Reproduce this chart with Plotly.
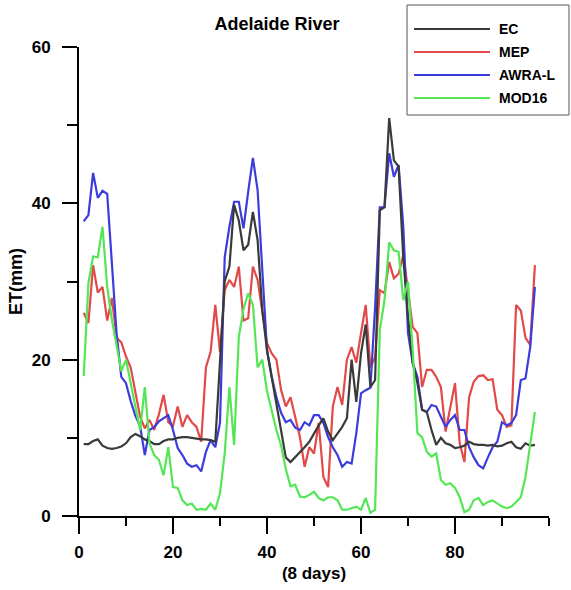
import plotly.graph_objects as go

# ---------------- data ----------------
periods = list(range(1, 98))  # 8-day periods

ec = [9.2, 9.2, 9.6, 9.8, 9.0, 8.7, 8.6, 8.7, 8.9, 9.3,
      10.1, 10.5, 10.2, 9.8, 9.6, 9.2, 9.2, 9.6, 9.8, 9.8,
      10.0, 10.1, 10.1, 10.0, 9.9, 9.8, 9.8, 9.7, 9.5, 20.0,
      30.0, 31.9, 39.8, 37.8, 34.0, 34.7, 38.9, 35.3, 26.3, 21.2,
      17.8, 14.4, 10.6, 7.5, 6.9, 7.5, 8.2, 8.8, 9.5, 10.6,
      11.6, 12.5, 10.8, 9.7, 10.6, 11.4, 12.5, 20.0, 14.6, 20.8,
      24.5, 16.5, 17.4, 39.1, 39.5, 50.9, 45.5, 44.7, 33.0, 25.5,
      19.6, 17.0, 13.6, 13.3, 11.0, 9.1, 10.0, 9.3, 9.1, 8.7,
      8.8, 9.0, 9.5, 9.2, 9.1, 9.1, 9.0, 9.1, 8.9, 9.0,
      9.3, 9.5, 8.8, 8.6, 9.3, 9.0, 9.1]

mep = [26.0, 24.7, 32.1, 28.6, 29.3, 25.0, 27.9, 22.8, 22.2, 20.4,
       19.0, 15.7, 12.7, 11.2, 12.3, 11.0, 13.0, 15.5, 12.0, 11.5,
       14.0, 11.4, 12.9, 12.0, 11.4, 9.5, 19.0, 21.0, 27.0, 21.0,
       28.9, 30.2, 29.3, 31.9, 25.0, 25.3, 31.9, 30.2, 26.0, 22.1,
       20.8, 20.0, 16.1, 14.0, 15.2, 12.7, 10.1, 6.3, 8.8, 8.0,
       11.9, 5.0, 3.7, 14.0, 16.5, 14.2, 20.0, 21.6, 19.6, 23.4,
       27.0, 19.0, 20.3, 28.9, 28.5, 32.5, 30.4, 31.0, 33.4, 28.9,
       24.2, 23.4, 16.5, 18.7, 18.7, 17.8, 16.5, 10.8, 14.0, 17.0,
       9.3, 6.9, 15.2, 17.2, 17.9, 18.0, 17.4, 17.5, 13.6, 12.9,
       11.4, 11.6, 27.0, 26.3, 22.8, 21.9, 32.1]

awra = [37.7, 38.5, 43.9, 40.7, 41.6, 41.2, 32.3, 23.3, 17.8, 17.0,
        14.7, 12.8, 11.5, 7.8, 11.0, 11.4, 12.1, 12.5, 12.9, 11.0,
        8.7, 7.8, 6.7, 6.3, 6.5, 5.7, 8.2, 9.7, 8.8, 11.9,
        33.1, 37.0, 40.2, 40.2, 36.8, 41.5, 45.8, 41.7, 31.9, 21.2,
        17.8, 15.2, 13.2, 12.0, 12.3, 11.3, 11.0, 12.0, 11.6, 12.9,
        12.9, 11.9, 10.1, 8.8, 7.8, 6.3, 6.9, 6.7, 10.6, 15.7,
        16.1, 16.4, 26.7, 39.5, 39.5, 46.4, 43.4, 44.9, 37.0, 23.4,
        19.6, 17.8, 13.6, 13.3, 14.2, 14.0, 12.7, 11.4, 12.3, 12.9,
        11.0, 11.0, 8.8, 7.5, 6.5, 6.1, 7.5, 8.8, 9.5, 12.0,
        11.6, 11.9, 12.9, 17.4, 17.6, 21.6, 29.3]

mod16 = [17.9, 29.8, 33.2, 33.1, 37.0, 29.3, 25.1, 21.6, 18.5, 20.0,
         17.0, 13.6, 11.0, 16.5, 9.3, 7.8, 7.2, 5.2, 8.8, 3.7,
         3.6, 2.0, 1.4, 1.6, 0.8, 0.9, 0.8, 1.6, 0.8, 2.9,
         8.0, 16.5, 9.1, 22.9, 26.5, 28.5, 27.0, 19.0, 20.0, 16.0,
         13.6, 11.0, 9.0, 6.0, 3.8, 4.0, 2.5, 2.4, 2.7, 3.1,
         2.3, 2.0, 2.4, 2.4, 2.0, 0.8, 0.8, 1.0, 1.2, 0.8,
         2.3, 0.4, 0.8, 23.8, 27.6, 35.0, 34.0, 33.8, 27.6, 30.0,
         21.2, 10.6, 10.1, 8.2, 7.6, 8.0, 4.6, 4.0, 4.2, 3.6,
         2.4, 0.5, 0.8, 2.0, 2.3, 1.4, 1.8, 2.0, 1.6, 1.2,
         1.0, 1.2, 1.8, 2.4, 5.0, 9.3, 13.3]

series_names = ["EC", "MEP", "AWRA-L", "MOD16"]
series_values = [ec, mep, awra, mod16]
series_colors = ["#3a3a3a", "#e24a4a", "#3c3cdc", "#55e655"]

x_tick_vals = [0, 20, 40, 60, 80]
x_tick_text = ["0", "20", "40", "60", "80"]
y_tick_vals = [0, 20, 40, 60]
y_tick_text = ["0", "20", "40", "60"]

chart_title = "Adelaide River"
x_title = "(8 days)"
y_title = "ET(mm)"

# ---------------- figure ----------------
FONT = "Liberation Sans, Arial, Helvetica, sans-serif"
W, H = 571, 590
ML, MR, MT, MB = 79, 22, 47, 74
PW, PH = W - ML - MR, H - MT - MB

fig = go.Figure()

draw_order = [1, 2, 0, 3]  # MEP, AWRA-L, EC, MOD16 (MOD16 on top)
for i in draw_order:
    fig.add_trace(go.Scatter(
        x=periods, y=series_values[i], name=series_names[i], mode="lines",
        line=dict(color=series_colors[i], width=2.2), showlegend=False,
    ))


def px_x(p):
    return (p - ML) / PW


def px_y(p):
    return (H - MB - p) / PH


# manual legend (long line samples in a framed box)
fig.add_shape(type="rect", xref="paper", yref="paper",
              x0=px_x(407), x1=px_x(569), y0=px_y(115), y1=px_y(5),
              line=dict(color="#555555", width=1), fillcolor="white", layer="above")
row_y = [29, 52, 75, 98]
for name, color, ry in zip(series_names, series_colors, row_y):
    fig.add_shape(type="line", xref="paper", yref="paper",
                  x0=px_x(414), x1=px_x(490), y0=px_y(ry), y1=px_y(ry),
                  line=dict(color=color, width=2.2), layer="above")
    fig.add_annotation(xref="paper", yref="paper", x=px_x(497), y=px_y(ry),
                       text=name, showarrow=False, xanchor="left", yanchor="middle",
                       font=dict(family=FONT, size=14, color="black", weight="bold"))

axis_common = dict(
    showline=True, linewidth=2, linecolor="black", mirror=False,
    showgrid=False, zeroline=False, automargin=False,
    ticks="outside", tickwidth=2, tickcolor="black",
    tickfont=dict(family=FONT, size=17, color="black", weight="bold"),
)

fig.update_xaxes(
    range=[0, 100], tickmode="array", tickvals=x_tick_vals, ticktext=x_tick_text,
    ticklen=16, ticklabelstandoff=4,
    minor=dict(ticks="outside", dtick=10, tick0=0, ticklen=8, tickwidth=2,
               tickcolor="black", showgrid=False),
    title=dict(text=x_title, standoff=6,
               font=dict(family=FONT, size=17, color="black", weight="bold")),
    **axis_common,
)
fig.update_yaxes(
    range=[0, 60], tickmode="array", tickvals=y_tick_vals, ticktext=y_tick_text,
    ticklen=15, ticklabelstandoff=8,
    minor=dict(ticks="outside", dtick=10, tick0=0, ticklen=10, tickwidth=2,
               tickcolor="black", showgrid=False),
    title=dict(text=y_title, standoff=4,
               font=dict(family=FONT, size=18, color="black", weight="bold")),
    **axis_common,
)

fig.update_layout(
    width=W, height=H,
    margin=dict(l=ML, r=MR, t=MT, b=MB, pad=0, autoexpand=False),
    paper_bgcolor="white", plot_bgcolor="white",
    showlegend=False,
    title=dict(text=chart_title, x=277 / W, xref="container", xanchor="center",
               y=1 - 24 / H, yref="container", yanchor="middle", automargin=False,
               font=dict(family=FONT, size=18, color="black", weight="bold")),
)

fig.write_html("out.html")
